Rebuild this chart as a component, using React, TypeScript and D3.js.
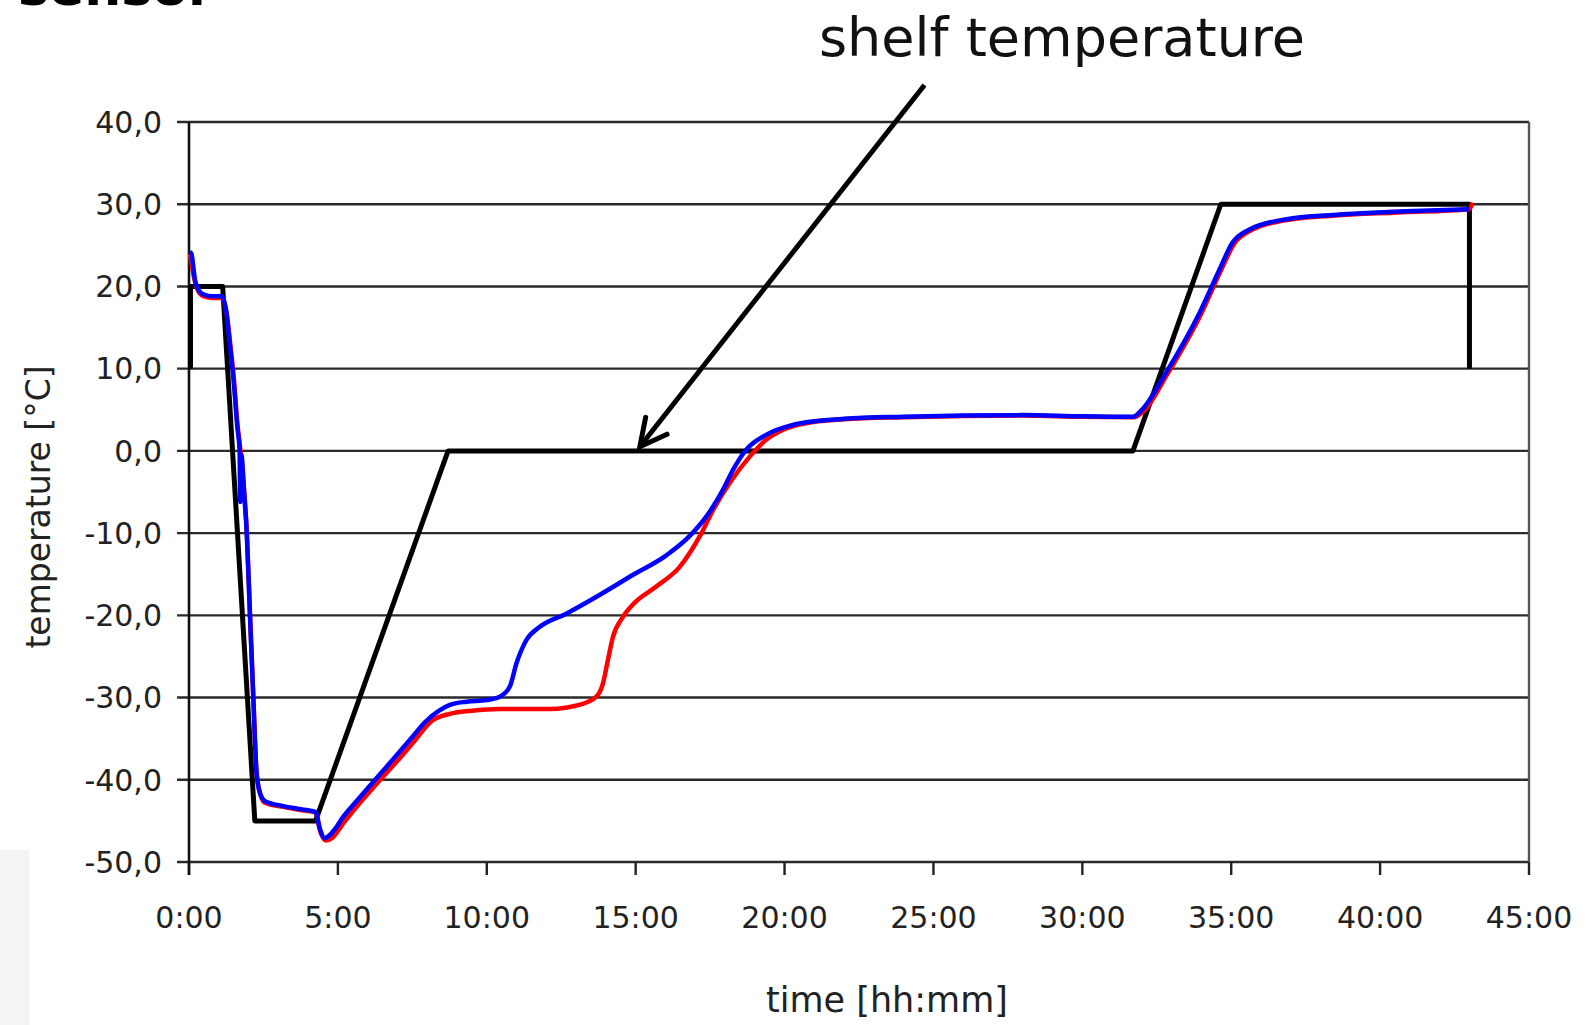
import React from 'react';
import * as d3 from 'd3';

// time in hours, temperature in °C
const shelfTime = [0.05, 0.05, 1.13, 2.21, 4.25, 8.7, 31.7, 34.65, 43.0, 43.0];
const shelfTemp = [10, 20, 20, -45, -45, 0, 0, 30, 30, 10];

const blueTime = [0.03, 0.08, 0.2, 0.35, 0.5, 0.8, 1.1, 1.25, 1.4, 1.5, 1.62, 1.7, 1.72, 1.76, 1.85, 1.94, 2.05, 2.16, 2.27, 2.4, 2.55, 3.17, 3.8, 4.25, 4.4, 4.56, 4.7, 4.9, 5.2, 5.6, 6.25, 7.0, 7.5, 7.92, 8.4, 8.76, 9.32, 10.0, 10.44, 10.77, 11.0, 11.33, 11.78, 12.67, 13.8, 14.9, 16.03, 16.8, 17.37, 17.93, 18.27, 18.7, 19.38, 20.28, 21.0, 22.0, 24.0, 26.0, 28.0, 30.0, 31.7, 32.0, 32.8, 33.93, 34.6, 35.04, 35.6, 36.72, 38.4, 40.6, 43.0];
const blueTemp = [24.2, 24.0, 20.8, 19.4, 19.0, 18.8, 18.8, 17, 12, 8.5, 3, 0, -6.2, -0.5, -5, -10, -20.2, -30, -39.2, -41.8, -42.6, -43.2, -43.6, -43.9, -46, -47.1, -46.8, -46.0, -44.4, -42.7, -40.0, -36.9, -34.8, -33.0, -31.6, -30.9, -30.5, -30.3, -29.9, -28.7, -25.8, -23.0, -21.4, -19.8, -17.5, -15.1, -12.7, -10.4, -8.0, -4.75, -2.3, 0.1, 1.95, 3.16, 3.6, 3.9, 4.15, 4.3, 4.35, 4.2, 4.16, 5.0, 9.45, 16.75, 22.0, 25.3, 26.9, 28.1, 28.7, 29.1, 29.4];

const redTime = [0.03, 0.2, 0.35, 0.5, 0.8, 1.1, 1.25, 1.4, 1.5, 1.62, 1.76, 1.85, 1.94, 2.05, 2.16, 2.27, 2.4, 2.55, 3.17, 3.8, 4.25, 4.4, 4.6, 4.8, 5.2, 5.6, 6.25, 7.0, 7.5, 8.2, 8.87, 9.5, 10.44, 11.5, 12.11, 12.7, 13.1, 13.68, 13.9, 14.07, 14.24, 14.57, 14.9, 15.69, 16.48, 17.15, 17.6, 18.15, 18.83, 19.38, 19.94, 20.5, 21.0, 22.0, 24.0, 26.0, 28.0, 30.0, 31.75, 32.05, 32.85, 33.98, 34.65, 35.1, 35.65, 36.75, 38.4, 40.6, 43.0, 43.1];
const redTemp = [24.0, 20.6, 19.2, 18.8, 18.6, 18.6, 17, 12.5, 9, 3.5, -1, -4.8, -9.8, -20, -30, -39.2, -41.8, -42.8, -43.3, -43.7, -44.0, -46.2, -47.4, -47.1, -45.2, -43.4, -40.7, -37.7, -35.6, -32.7, -31.9, -31.6, -31.4, -31.4, -31.4, -31.2, -30.9, -29.9, -28.3, -25.4, -22.6, -20.2, -18.7, -16.5, -14.1, -10.4, -7.2, -3.95, -0.7, 1.34, 2.55, 3.2, 3.55, 3.85, 4.1, 4.25, 4.3, 4.15, 4.1, 4.8, 9.3, 16.6, 21.9, 25.2, 26.8, 28.0, 28.6, 29.0, 29.4, 30.2];

const yTicks = [40, 30, 20, 10, 0, -10, -20, -30, -40, -50];
const xTicks = [0, 5, 10, 15, 20, 25, 30, 35, 40, 45];
const xTickLabels = ['0:00', '5:00', '10:00', '15:00', '20:00', '25:00', '30:00', '35:00', '40:00', '45:00'];

// annotation arrow (tail, tip) in data units
const arrowTime = [24.7, 15.14];
const arrowTemp = [44.5, 0.5];

const font = 'DejaVu Sans, Verdana, sans-serif';

export default function App() {
  const x = d3.scaleLinear().domain([0, 45]).range([189, 1529]);
  const y = d3.scaleLinear().domain([-50, 40]).range([862, 122]);

  const line = d3.line<[number, number]>()
    .x(d => x(d[0]))
    .y(d => y(d[1]))
    .curve(d3.curveMonotoneX);
  const straight = d3.line<[number, number]>()
    .x(d => x(d[0]))
    .y(d => y(d[1]));

  const shelf = shelfTime.map((t, i) => [t, shelfTemp[i]] as [number, number]);
  const blue = blueTime.map((t, i) => [t, blueTemp[i]] as [number, number]);
  const red = redTime.map((t, i) => [t, redTemp[i]] as [number, number]);

  // arrow geometry
  const x0 = x(arrowTime[0]), y0 = y(arrowTemp[0]);
  const x1 = x(arrowTime[1]), y1 = y(arrowTemp[1]);
  const ang = Math.atan2(y0 - y1, x0 - x1);
  const a = (27 * Math.PI) / 180;
  const len = 30;
  const head = `M${x1 + len * Math.cos(ang - a)},${y1 + len * Math.sin(ang - a)} L${x1},${y1} L${x1 + len * Math.cos(ang + a)},${y1 + len * Math.sin(ang + a)}`;

  const fmt = (v: number) => d3.format('.1f')(v).replace('.', ',').replace('−', '-');

  return (
    <svg width={1586} height={1025} style={{ position: 'absolute', left: 0, top: 0, background: '#fff' }}>
      <rect x={0} y={850} width={29} height={175} fill="#f4f4f4" />
      <text x={18} y={5} fontFamily={font} fontWeight="bold" fontSize={52} fill="#000">sensor</text>

      {/* grid */}
      {yTicks.map(v => (
        <line key={v} x1={177} x2={1529} y1={y(v)} y2={y(v)} stroke="#2a2a2a" strokeWidth={2.4} />
      ))}
      <line x1={1529} x2={1529} y1={y(40)} y2={y(-50)} stroke="#555" strokeWidth={2.4} />
      {xTicks.map(v => (
        <line key={v} x1={x(v)} x2={x(v)} y1={y(-50)} y2={y(-50) + 13} stroke="#222" strokeWidth={2.4} />
      ))}
      <line x1={x(0)} x2={x(0)} y1={y(40)} y2={y(-50) + 13} stroke="#111" strokeWidth={2.6} />

      {/* tick labels */}
      {yTicks.map(v => (
        <text key={v} x={162} y={y(v)} dy="0.36em" textAnchor="end" fontFamily={font} fontSize={30} fill="#222">{fmt(v)}</text>
      ))}
      {xTicks.map((v, i) => (
        <text key={v} x={x(v)} y={928} textAnchor="middle" fontFamily={font} fontSize={30} fill="#222">{xTickLabels[i]}</text>
      ))}

      {/* series */}
      <path d={straight(shelf) ?? ''} fill="none" stroke="#000" strokeWidth={5} strokeLinejoin="round" />
      <path d={line(red) ?? ''} fill="none" stroke="#ff0000" strokeWidth={4.5} strokeLinejoin="round" />
      <path d={line(blue) ?? ''} fill="none" stroke="#0000ff" strokeWidth={4.5} strokeLinejoin="round" />

      {/* annotation */}
      <line x1={x0} y1={y0} x2={x1} y2={y1} stroke="#000" strokeWidth={5} />
      <path d={head} fill="none" stroke="#000" strokeWidth={5} strokeLinejoin="miter" strokeLinecap="round" />
      <text x={1062} y={56} textAnchor="middle" fontFamily={font} fontSize={54} fill="#111">shelf temperature</text>

      {/* axis titles */}
      <text transform={`translate(50,507) rotate(-90)`} textAnchor="middle" fontFamily={font} fontSize={33} fill="#222">temperature [°C]</text>
      <text x={887} y={1012} textAnchor="middle" fontFamily={font} fontSize={35} fill="#222">time [hh:mm]</text>
    </svg>
  );
}
